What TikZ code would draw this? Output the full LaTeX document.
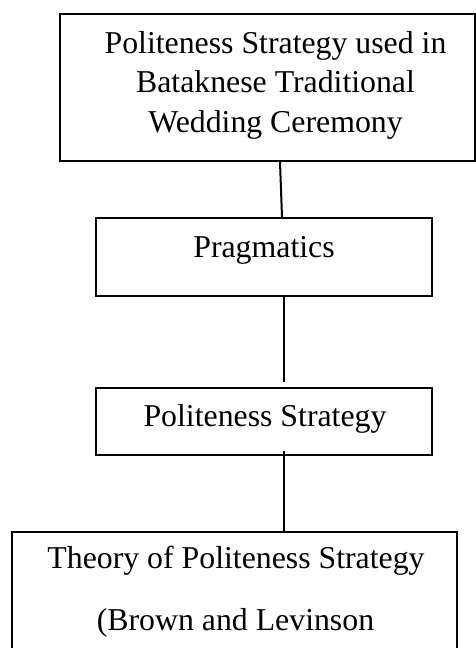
\documentclass[tikz,border=0pt]{standalone}
\usepackage{fontspec}
\setmainfont{Liberation Serif}
\begin{document}
\begin{tikzpicture}[x=1pt,y=-1pt,
  box/.style={draw=black,line width=2pt,rectangle,inner sep=0pt},
  lbl/.style={anchor=base,inner sep=0pt,font=\fontsize{31.8pt}{38pt}\selectfont},
  conn/.style={draw=black,line width=2pt}]
\useasboundingbox (0,0) rectangle (476,648);
\clip (0,0) rectangle (476,648);
% boxes
\node[box,minimum width=415pt,minimum height=147pt] (b1) at (267.5,87.5) {};
\node[box,minimum width=336pt,minimum height=78pt] (b2) at (264,257) {};
\node[box,minimum width=336pt,minimum height=67pt] (b3) at (264,421.5) {};
\node[box,minimum width=445pt,minimum height=148pt] (b4) at (234.5,606) {};
% texts
\node[lbl] (t1a) at (275.5,53) {Politeness Strategy used in};
\node[lbl] (t1b) at (275.5,92.5) {Bataknese Traditional};
\node[lbl] (t1c) at (275.5,132) {Wedding Ceremony};
\node[lbl] (t2) at (264,257) {Pragmatics};
\node[lbl] (t3) at (265,426) {Politeness Strategy};
\node[lbl] (t4a) at (236,568) {Theory of Politeness Strategy};
\node[lbl] (t4b) at (235.5,630) {(Brown and Levinson};
% connectors
\draw[conn] ([xshift=12.5pt]b1.south) -- ([xshift=18pt]b2.north);
\draw[conn] ([xshift=20pt]b2.south) -- ([xshift=20pt,yshift=5pt]b3.north);
\draw[conn] ([xshift=20pt,yshift=5pt]b3.south) -- ([xshift=49.5pt]b4.north);
\end{tikzpicture}
\end{document}
